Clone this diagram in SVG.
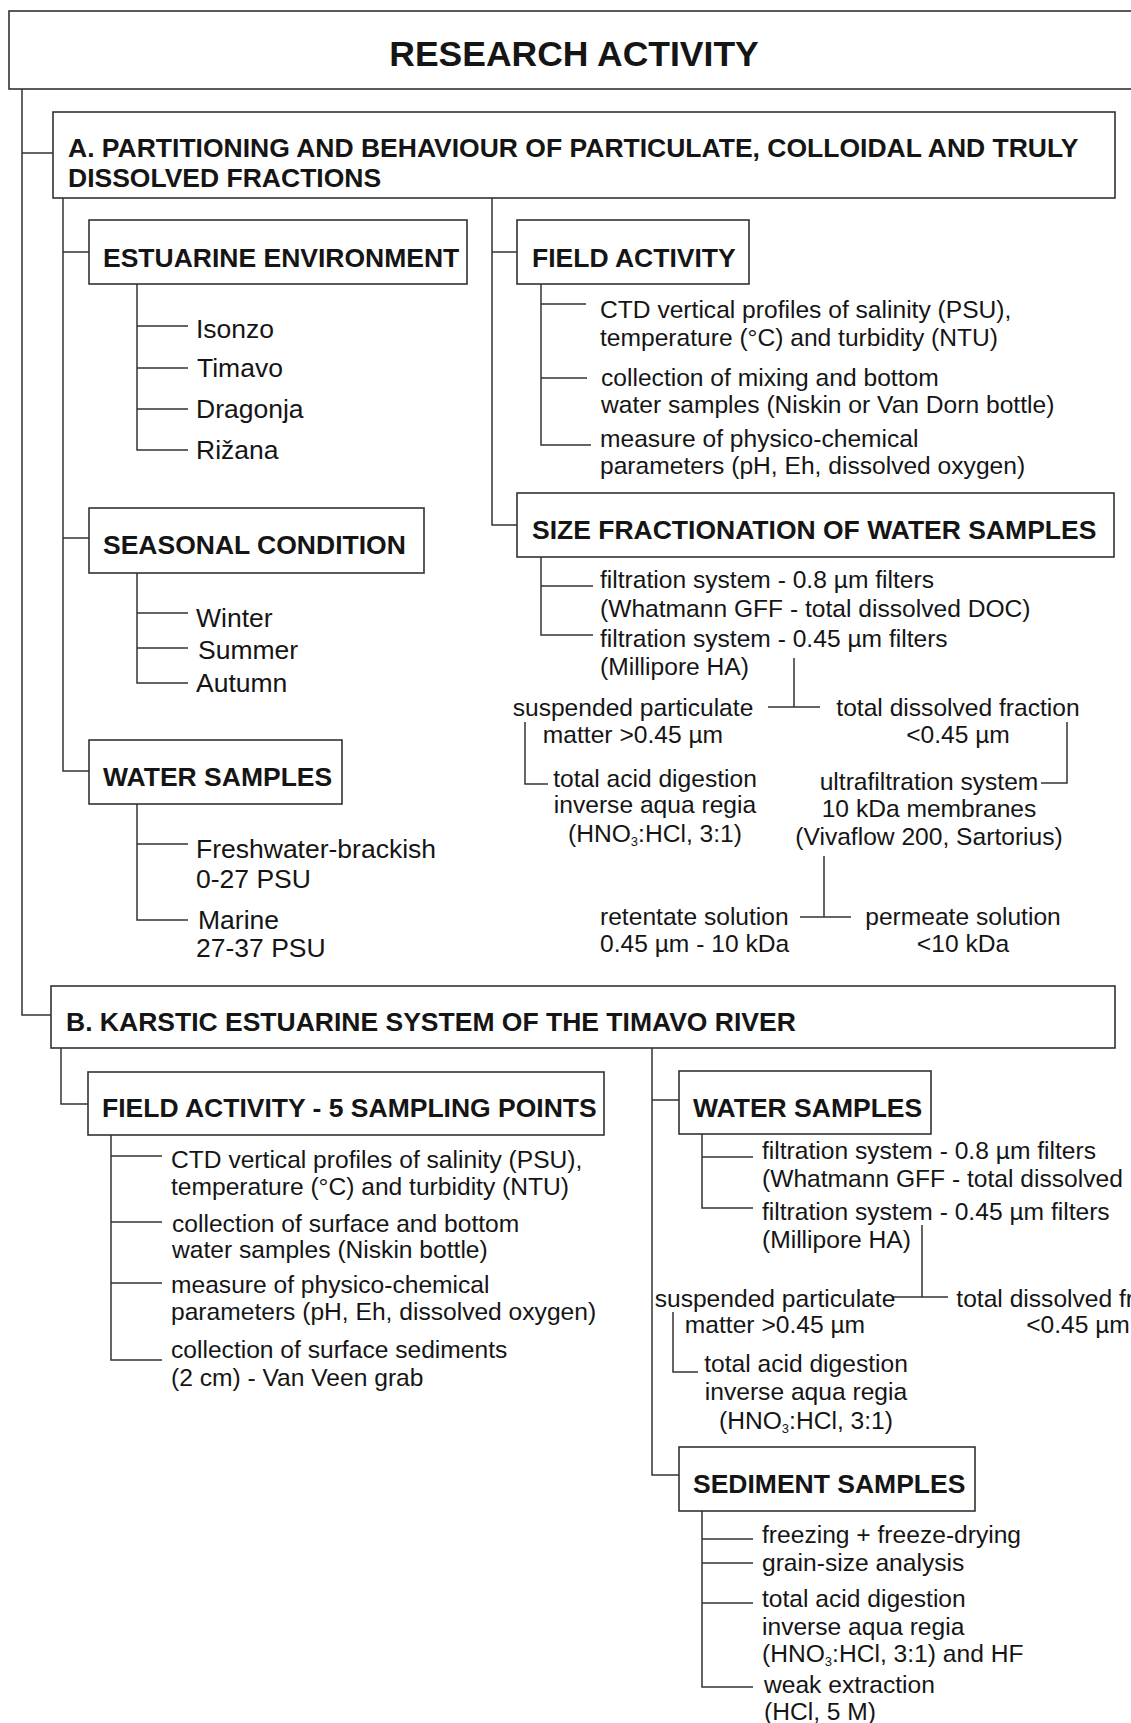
<svg xmlns="http://www.w3.org/2000/svg" width="1131" height="1723" viewBox="0 0 1131 1723">
<style>
.bg{fill:#ffffff}
.box{fill:#ffffff;stroke:#333333;stroke-width:1.6}
.ln{fill:none;stroke:#333333;stroke-width:1.5}
text{font-family:"Liberation Sans",Arial,sans-serif;fill:#151515}
.ttl{font-size:35.5px;font-weight:bold}
.hd{font-size:26.5px;font-weight:bold}
.ls{font-size:26.5px}
.tx{font-size:24.6px}
.mid{text-anchor:middle}
.sub{font-size:13px}
</style>
<rect class="bg" x="0" y="0" width="1131" height="1723"/>

<g id="connectors">
  <path class="ln" d="M22,89 V1015 H51 M22,153 H53"/>
  <path class="ln" d="M63,198 V771 H89 M63,252 H89 M63,538 H89"/>
  <path class="ln" d="M137,284 V450 H188 M137,326 H188 M137,368 H188 M137,409 H188"/>
  <path class="ln" d="M137,573 V683 H188 M137,613 H188 M137,648 H188"/>
  <path class="ln" d="M137,804 V920 H188 M137,844 H188"/>
  <path class="ln" d="M492,198 V525 H517 M492,252 H517"/>
  <path class="ln" d="M541,284 V445 H591 M541,304 H586 M541,378 H587"/>
  <path class="ln" d="M541,557 V635 H593 M541,586 H593"/>
  <path class="ln" d="M794,658 V707 M768,707 H820"/>
  <path class="ln" d="M525,722 V784 H548"/>
  <path class="ln" d="M1067,722 V783 H1041"/>
  <path class="ln" d="M824,856 V917 M800,917 H851"/>
  <path class="ln" d="M61,1048 V1104 H88"/>
  <path class="ln" d="M111,1135 V1360 H162 M111,1156 H162 M111,1222 H162 M111,1283 H162"/>
  <path class="ln" d="M652,1048 V1475 H679 M652,1100 H679"/>
  <path class="ln" d="M702,1134 V1208 H753 M702,1157 H753"/>
  <path class="ln" d="M922,1225 V1297 M893,1297 H948"/>
  <path class="ln" d="M673,1312 V1372 H698"/>
  <path class="ln" d="M702,1511 V1687 H753 M702,1539 H753 M702,1563 H753 M702,1603 H753"/>
</g>

<g id="research-activity">
  <rect class="box" x="9" y="11" width="1140" height="78"/>
  <text class="ttl mid" x="574" y="66">RESEARCH ACTIVITY</text>
</g>

<g id="section-a">
  <rect class="box" x="53" y="112" width="1062" height="86"/>
  <text class="hd" x="68" y="157">A. PARTITIONING AND BEHAVIOUR OF PARTICULATE, COLLOIDAL AND TRULY</text>
  <text class="hd" x="68" y="187">DISSOLVED FRACTIONS</text>
</g>

<g id="estuarine-environment">
  <rect class="box" x="89" y="220" width="378" height="64"/>
  <text class="hd" x="103" y="267">ESTUARINE ENVIRONMENT</text>
</g>
<g id="estuaries">
  <text class="ls" x="196" y="338">Isonzo</text>
  <text class="ls" x="197" y="377">Timavo</text>
  <text class="ls" x="196" y="418">Dragonja</text>
  <text class="ls" x="196" y="459">Rižana</text>
</g>

<g id="seasonal-condition">
  <rect class="box" x="89" y="508" width="335" height="65"/>
  <text class="hd" x="103" y="554">SEASONAL CONDITION</text>
</g>
<g id="seasons">
  <text class="ls" x="196" y="627">Winter</text>
  <text class="ls" x="198" y="659">Summer</text>
  <text class="ls" x="196" y="692">Autumn</text>
</g>

<g id="water-samples-a">
  <rect class="box" x="89" y="740" width="253" height="64"/>
  <text class="hd" x="103" y="786">WATER SAMPLES</text>
</g>
<g id="salinity-ranges">
  <text class="ls" x="196" y="858">Freshwater-brackish</text>
  <text class="ls" x="196" y="888">0-27 PSU</text>
  <text class="ls" x="198" y="929">Marine</text>
  <text class="ls" x="196" y="957">27-37 PSU</text>
</g>

<g id="field-activity-a">
  <rect class="box" x="517" y="220" width="232" height="64"/>
  <text class="hd" x="532" y="267">FIELD ACTIVITY</text>
</g>
<g id="field-activity-a-items">
  <text class="tx" x="600" y="318">CTD vertical profiles of salinity (PSU),</text>
  <text class="tx" x="600" y="346">temperature (°C) and turbidity (NTU)</text>
  <text class="tx" x="601" y="386">collection of mixing and bottom</text>
  <text class="tx" x="601" y="413">water samples (Niskin or Van Dorn bottle)</text>
  <text class="tx" x="600" y="447">measure of physico-chemical</text>
  <text class="tx" x="600" y="474">parameters (pH, Eh, dissolved oxygen)</text>
</g>

<g id="size-fractionation">
  <rect class="box" x="517" y="493" width="597" height="64"/>
  <text class="hd" x="532" y="539">SIZE FRACTIONATION OF WATER SAMPLES</text>
</g>
<g id="size-fractionation-items">
  <text class="tx" x="600" y="588">filtration system - 0.8 µm filters</text>
  <text class="tx" x="600" y="617">(Whatmann GFF - total dissolved DOC)</text>
  <text class="tx" x="600" y="647">filtration system - 0.45 µm filters</text>
  <text class="tx" x="600" y="675">(Millipore HA)</text>
</g>
<g id="spm-a">
  <text class="tx mid" x="633" y="716">suspended particulate</text>
  <text class="tx mid" x="633" y="743">matter &gt;0.45 µm</text>
</g>
<g id="digestion-a">
  <text class="tx mid" x="655" y="787">total acid digestion</text>
  <text class="tx mid" x="655" y="813">inverse aqua regia</text>
  <text class="tx mid" x="655" y="842">(HNO<tspan class="sub" dy="4">3</tspan><tspan dy="-4">:HCl, 3:1)</tspan></text>
</g>
<g id="dissolved-a">
  <text class="tx mid" x="958" y="716">total dissolved fraction</text>
  <text class="tx mid" x="958" y="743">&lt;0.45 µm</text>
</g>
<g id="ultrafiltration">
  <text class="tx mid" x="929" y="790">ultrafiltration system</text>
  <text class="tx mid" x="929" y="817">10 kDa membranes</text>
  <text class="tx mid" x="929" y="845">(Vivaflow 200, Sartorius)</text>
</g>
<g id="retentate">
  <text class="tx" x="600" y="925">retentate solution</text>
  <text class="tx" x="600" y="952">0.45 µm - 10 kDa</text>
</g>
<g id="permeate">
  <text class="tx mid" x="963" y="925">permeate solution</text>
  <text class="tx mid" x="963" y="952">&lt;10 kDa</text>
</g>

<g id="section-b">
  <rect class="box" x="51" y="986" width="1064" height="62"/>
  <text class="hd" x="66" y="1031">B. KARSTIC ESTUARINE SYSTEM OF THE TIMAVO RIVER</text>
</g>

<g id="field-activity-b">
  <rect class="box" x="88" y="1072" width="516" height="63"/>
  <text class="hd" x="102" y="1117">FIELD ACTIVITY - 5 SAMPLING POINTS</text>
</g>
<g id="field-activity-b-items">
  <text class="tx" x="171" y="1168">CTD vertical profiles of salinity (PSU),</text>
  <text class="tx" x="171" y="1195">temperature (°C) and turbidity (NTU)</text>
  <text class="tx" x="172" y="1232">collection of surface and bottom</text>
  <text class="tx" x="172" y="1258">water samples (Niskin bottle)</text>
  <text class="tx" x="171" y="1293">measure of physico-chemical</text>
  <text class="tx" x="171" y="1320">parameters (pH, Eh, dissolved oxygen)</text>
  <text class="tx" x="171" y="1358">collection of surface sediments</text>
  <text class="tx" x="171" y="1386">(2 cm) - Van Veen grab</text>
</g>

<g id="water-samples-b">
  <rect class="box" x="679" y="1071" width="252" height="63"/>
  <text class="hd" x="693" y="1117">WATER SAMPLES</text>
</g>
<g id="water-samples-b-items">
  <text class="tx" x="762" y="1159">filtration system - 0.8 µm filters</text>
  <text class="tx" x="762" y="1187">(Whatmann GFF - total dissolved DOC)</text>
  <text class="tx" x="762" y="1220">filtration system - 0.45 µm filters</text>
  <text class="tx" x="762" y="1248">(Millipore HA)</text>
</g>
<g id="spm-b">
  <text class="tx mid" x="775" y="1307">suspended particulate</text>
  <text class="tx mid" x="775" y="1333">matter &gt;0.45 µm</text>
</g>
<g id="digestion-b">
  <text class="tx mid" x="806" y="1372">total acid digestion</text>
  <text class="tx mid" x="806" y="1400">inverse aqua regia</text>
  <text class="tx mid" x="806" y="1429">(HNO<tspan class="sub" dy="4">3</tspan><tspan dy="-4">:HCl, 3:1)</tspan></text>
</g>
<g id="dissolved-b">
  <text class="tx mid" x="1078" y="1307">total dissolved fraction</text>
  <text class="tx mid" x="1078" y="1333">&lt;0.45 µm</text>
</g>

<g id="sediment-samples">
  <rect class="box" x="679" y="1447" width="296" height="64"/>
  <text class="hd" x="693" y="1493">SEDIMENT SAMPLES</text>
</g>
<g id="sediment-items">
  <text class="tx" x="762" y="1543">freezing + freeze-drying</text>
  <text class="tx" x="762" y="1571">grain-size analysis</text>
  <text class="tx" x="762" y="1607">total acid digestion</text>
  <text class="tx" x="762" y="1635">inverse aqua regia</text>
  <text class="tx" x="762" y="1662">(HNO<tspan class="sub" dy="4">3</tspan><tspan dy="-4">:HCl, 3:1) and HF</tspan></text>
  <text class="tx" x="764" y="1693">weak extraction</text>
  <text class="tx" x="764" y="1720">(HCl, 5 M)</text>
</g>
</svg>
